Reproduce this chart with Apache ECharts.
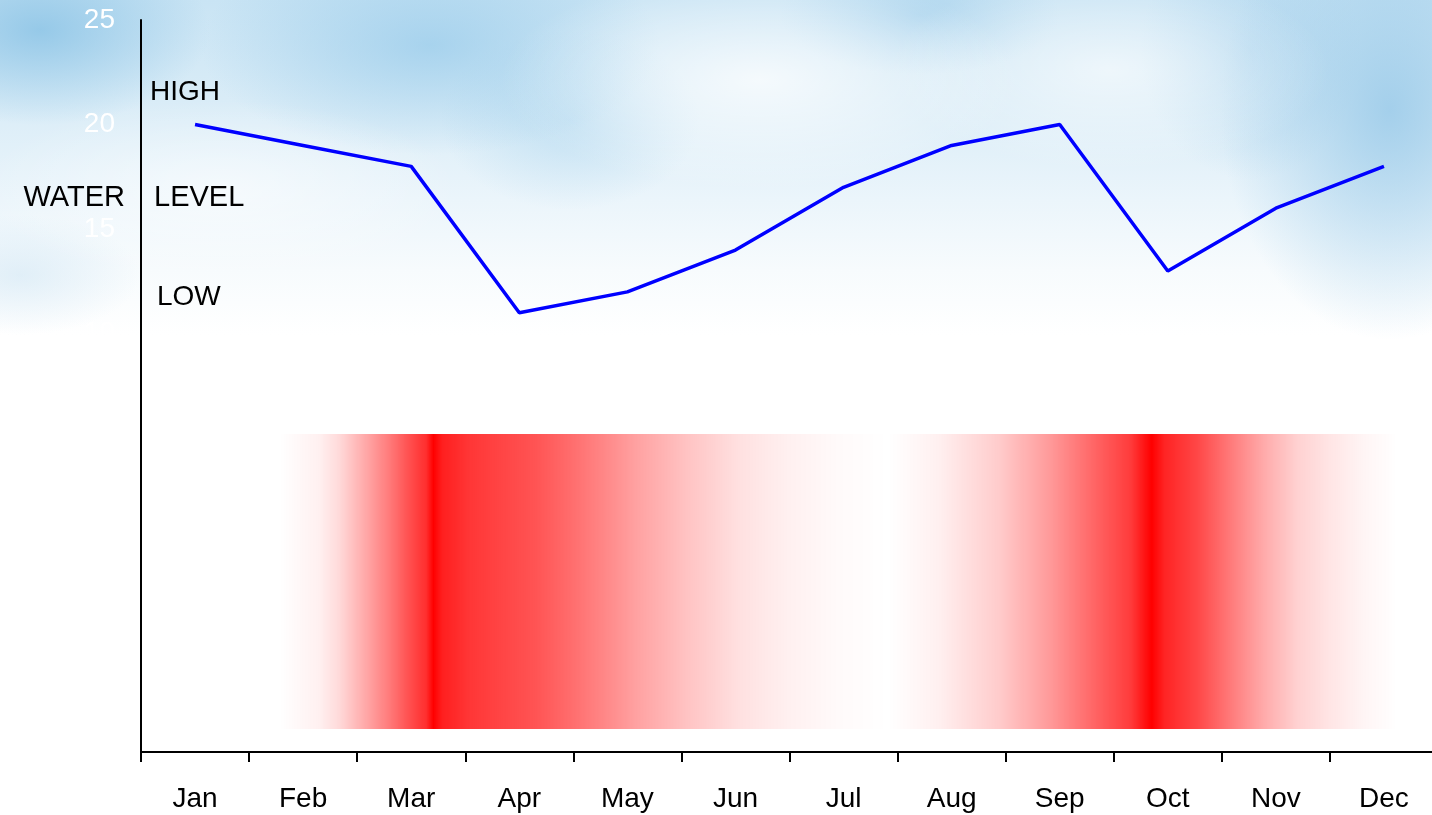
<!DOCTYPE html>
<html>
<head>
<meta charset="utf-8">
<script src="https://cdn.jsdelivr.net/npm/echarts@6/dist/echarts.min.js"></script>
<style>
  html, body { margin: 0; padding: 0; background: #ffffff; overflow: hidden; }
  #wrap { position: relative; width: 1432px; height: 815px; overflow: hidden; }
  /* soft sky with clouds behind the plot */
  #sky {
    position: absolute; left: 0; top: 0; width: 1432px; height: 340px;
    background:
      radial-gradient(260px 110px at 760px 80px, rgba(255,255,255,0.75) 0%, rgba(255,255,255,0) 100%),
      radial-gradient(220px 100px at 1110px 70px, rgba(255,255,255,0.6) 0%, rgba(255,255,255,0) 100%),
      radial-gradient(240px 90px at 220px 190px, rgba(255,255,255,0.55) 0%, rgba(255,255,255,0) 100%),
      radial-gradient(170px 95px at 40px 30px, rgba(140,196,230,0.85) 0%, rgba(140,196,230,0) 100%),
      radial-gradient(230px 110px at 430px 45px, rgba(150,202,234,0.7) 0%, rgba(150,202,234,0) 100%),
      radial-gradient(130px 90px at 570px 120px, rgba(165,210,237,0.5) 0%, rgba(165,210,237,0) 100%),
      radial-gradient(140px 60px at 920px 15px, rgba(160,206,235,0.6) 0%, rgba(160,206,235,0) 100%),
      radial-gradient(170px 230px at 1390px 110px, rgba(150,200,232,0.8) 0%, rgba(150,200,232,0) 100%),
      radial-gradient(110px 130px at 1250px 50px, rgba(165,208,236,0.5) 0%, rgba(165,208,236,0) 100%),
      radial-gradient(120px 60px at 20px 275px, rgba(205,228,243,0.55) 0%, rgba(205,228,243,0) 100%),
      linear-gradient(180deg, #c9e4f4 0px, #d9ecf7 100px, #ebf5fb 200px, #f7fbfd 270px, #ffffff 335px);
  }
  /* the plot runs slightly past the right edge of the page */
  #chart { position: absolute; left: 0; top: 0; width: 1445px; height: 815px; }
</style>
</head>
<body>
<div id="wrap">
  <div id="sky"></div>
  <div id="chart"></div>
</div>
<script>
// Monthly water level
const months = ['Jan', 'Feb', 'Mar', 'Apr', 'May', 'Jun', 'Jul', 'Aug', 'Sep', 'Oct', 'Nov', 'Dec'];
const waterLevel = [20, 19, 18, 11, 12, 14, 17, 19, 20, 13, 16, 18];

// Y axis range and ticks
const yMin = -10;
const yMax = 25;
const yStep = 5;

// Red intensity band: positions along the month axis (0 = Jan) and strength 0..1
const bandPos = [0.783, 1.152, 1.337, 1.614, 1.798, 1.983, 2.140, 2.205, 2.288, 2.537, 2.842,
                 3.155, 3.460, 3.765, 4.078, 4.568, 5.029, 5.491, 5.952, 6.414, 6.875, 7.429,
                 7.891, 8.352, 8.657, 8.851, 8.971, 9.275, 9.580, 9.894, 10.198, 10.503, 10.817, 11.122];
const bandLevel = [0, 0.06, 0.15, 0.37, 0.52, 0.69, 0.82, 1.0, 0.88, 0.79, 0.73,
                   0.67, 0.58, 0.48, 0.37, 0.23, 0.12, 0.06, 0.02, 0, 0.06, 0.2,
                   0.39, 0.62, 0.77, 1.0, 0.86, 0.72, 0.52, 0.33, 0.18, 0.1, 0.04, 0];
// vertical extent of the band in water-level units
const bandTop = 5.2;
const bandBottom = -8.9;

// Side labels
const sideLabels = [
  { text: 'HIGH', x: 150, y: 92, align: 'left', size: 28 },
  { text: 'WATER', x: 125, y: 198, align: 'right', size: 29 },
  { text: 'LEVEL', x: 154, y: 198, align: 'left', size: 29 },
  { text: 'LOW', x: 157, y: 297, align: 'left', size: 28 }
];

const FONT = '"Liberation Sans", Arial, Helvetica, sans-serif';

const chart = echarts.init(document.getElementById('chart'), null, { renderer: 'canvas' });

const bandStart = bandPos[0];
const bandEnd = bandPos[bandPos.length - 1];
const bandStops = bandPos.map((p, i) => ({
  offset: (p - bandStart) / (bandEnd - bandStart),
  color: 'rgba(255,0,0,' + bandLevel[i] + ')'
}));

chart.setOption({
  backgroundColor: 'transparent',
  animation: false,
  grid: { left: 141, right: 7, top: 20, bottom: 63, containLabel: false },
  xAxis: [
    {
      type: 'category',
      data: months,
      boundaryGap: true,
      axisLine: { show: true, onZero: false, lineStyle: { color: '#000', width: 2 } },
      axisTick: { show: true, length: 10, lineStyle: { color: '#000', width: 2 } },
      axisLabel: { color: '#000', fontSize: 28, fontFamily: FONT, margin: 33 },
      splitLine: { show: false }
    },
    {
      type: 'value',
      min: -0.5,
      max: 11.5,
      show: false,
      axisLine: { onZero: false }
    }
  ],
  yAxis: {
    type: 'value',
    min: yMin,
    max: yMax,
    interval: yStep,
    axisLine: { show: true, onZero: false, lineStyle: { color: '#000', width: 2 } },
    axisTick: { show: false },
    axisLabel: { color: '#fff', fontSize: 28, fontFamily: FONT, margin: 26 },
    splitLine: { show: false }
  },
  graphic: sideLabels.map(l => ({
    type: 'text',
    x: l.x,
    y: l.y,
    z: 10,
    style: {
      text: l.text,
      font: l.size + 'px ' + FONT,
      fill: '#000',
      align: l.align,
      verticalAlign: 'middle'
    }
  })),
  series: [
    {
      type: 'custom',
      xAxisIndex: 1,
      z: 1,
      silent: true,
      data: [[bandStart, bandTop, bandEnd, bandBottom]],
      renderItem: function (params, api) {
        const p0 = api.coord([api.value(0), api.value(1)]);
        const p1 = api.coord([api.value(2), api.value(3)]);
        return {
          type: 'rect',
          shape: { x: p0[0], y: p0[1], width: p1[0] - p0[0], height: p1[1] - p0[1] },
          style: { fill: new echarts.graphic.LinearGradient(0, 0, 1, 0, bandStops) }
        };
      }
    },
    {
      type: 'line',
      data: waterLevel,
      z: 5,
      showSymbol: false,
      symbol: 'none',
      smooth: false,
      lineStyle: { color: '#0000ff', width: 3.5 }
    }
  ]
});
</script>
</body>
</html>
